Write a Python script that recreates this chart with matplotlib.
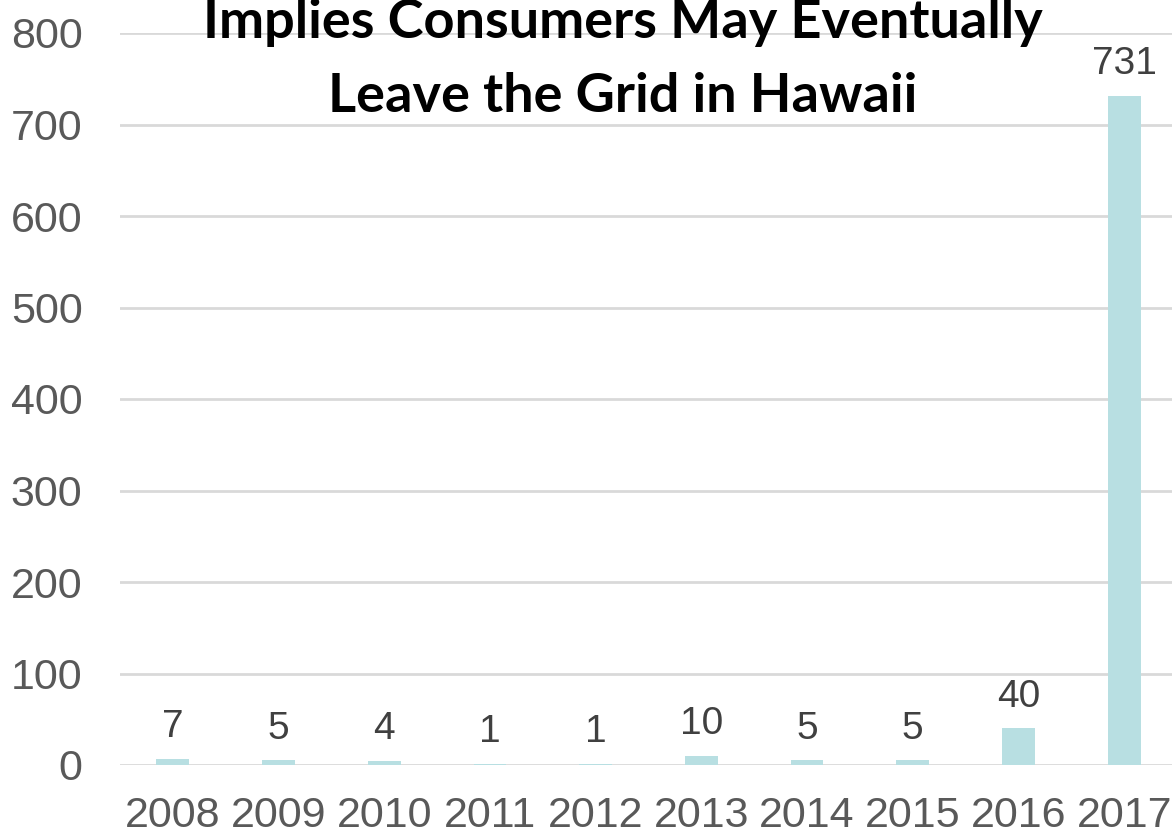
import matplotlib
matplotlib.use("Agg")
import matplotlib.pyplot as plt

years = ["2008", "2009", "2010", "2011", "2012", "2013", "2014", "2015", "2016", "2017"]
counts = [7, 5, 4, 1, 1, 10, 5, 5, 40, 731]
title_lines = ["Implies Consumers May Eventually", "Leave the Grid in Hawaii"]

BAR_COLOR = "#B8DFE2"
GRID_COLOR = "#D9D9D9"
TICK_COLOR = "#595959"
LABEL_COLOR = "#404040"

plt.rcParams["font.family"] = ["Liberation Sans", "DejaVu Sans"]

fig = plt.figure(figsize=(11.72, 8.35), dpi=100)
ax = fig.add_axes([120 / 1172, 1 - 765 / 835, 1057 / 1172, (765 - 33) / 835])

x = list(range(len(years)))
ax.bar(x, counts, width=0.31, color=BAR_COLOR, zorder=2)

# value labels above each bar
for xi, v in zip(x, counts):
    ax.annotate(str(v), (xi, v), xytext=(0, 10), textcoords="offset points",
                ha="center", va="bottom", fontsize=28, color=LABEL_COLOR)

ax.set_xlim(-0.5, len(years) - 0.5)
ax.set_ylim(0, 800)
ax.set_yticks(range(0, 801, 100))
ax.set_xticks(x)
ax.set_xticklabels(years)
ax.tick_params(axis="both", length=0, labelsize=31, labelcolor=TICK_COLOR)
ax.tick_params(axis="x", pad=22)
ax.tick_params(axis="y", pad=27)
ax.grid(axis="y", color=GRID_COLOR, linewidth=2, zorder=0)
ax.set_axisbelow(True)
for s in ax.spines.values():
    s.set_visible(False)

fig.text(0.531, 1 - 38 / 835, title_lines[0], ha="center", va="baseline",
         fontsize=39, fontweight="bold", family="Lato", color="black")
fig.text(0.531, 1 - 112 / 835, title_lines[1], ha="center", va="baseline",
         fontsize=39, fontweight="bold", family="Lato", color="black")

fig.savefig("out.png", dpi=100)
